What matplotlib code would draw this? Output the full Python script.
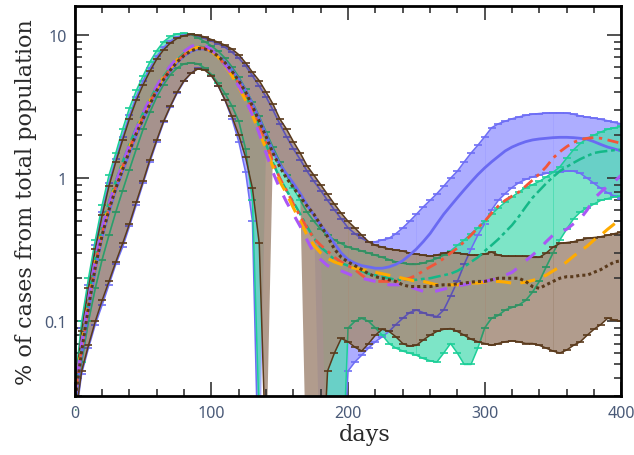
import matplotlib
matplotlib.use("Agg")
import matplotlib.pyplot as plt
import numpy as np
from matplotlib.path import Path
from matplotlib.ticker import FixedLocator, FixedFormatter, MultipleLocator

nan = np.nan

# simulation days, sampled every 5 days
days = np.arange(0, 401, 5)

# scenario means (% of population infected)
blue_mean = [
    0.026, 0.06, 0.12, 0.23, 0.39, 0.58, 0.83, 1.12, 1.5, 2.0,
    2.55, 3.25, 4.0, 4.85, 5.65, 6.45, 7.15, 7.7, 8.0, 8.0,
    7.7, 7.15, 6.5, 5.7, 4.9, 4.1, 3.3, 2.6, 2.0, 1.55,
    1.25, 1.07, 0.92, 0.78, 0.65, 0.55, 0.47, 0.41, 0.35, 0.3,
    0.27, 0.255, 0.245, 0.24, 0.235, 0.235, 0.24, 0.25, 0.265, 0.29,
    0.32, 0.36, 0.41, 0.48, 0.56, 0.64, 0.73, 0.83, 0.94, 1.06,
    1.18, 1.3, 1.42, 1.55, 1.65, 1.73, 1.8, 1.85, 1.88, 1.9,
    1.92, 1.93, 1.93, 1.92, 1.9, 1.87, 1.8, 1.72, 1.65, 1.6,
    1.55,
]
green_mean = [
    0.031, 0.072, 0.145, 0.28, 0.46, 0.68, 0.95, 1.3, 1.72, 2.25,
    2.85, 3.55, 4.35, 5.15, 5.95, 6.75, 7.45, 8.0, 8.3, 8.2,
    7.8, 7.1, 6.3, 5.45, 4.6, 3.8, 3.0, 2.3, 1.72, 1.28,
    1.0, 0.82, 0.68, 0.56, 0.46, 0.38, 0.33, 0.3, 0.27, 0.255,
    0.245, 0.235, 0.225, 0.215, 0.21, 0.205, 0.2, 0.195, 0.195, 0.195,
    0.195, 0.198, 0.2, 0.205, 0.21, 0.215, 0.225, 0.24, 0.26, 0.28,
    0.31, 0.34, 0.375, 0.42, 0.47, 0.54, 0.63, 0.73, 0.82, 0.92,
    1.02, 1.12, 1.2, 1.28, 1.36, 1.43, 1.5, 1.53, 1.55, 1.57,
    1.58,
]
brown_mean = [
    0.027, 0.062, 0.125, 0.24, 0.4, 0.6, 0.85, 1.15, 1.55, 2.05,
    2.6, 3.3, 4.1, 4.9, 5.7, 6.5, 7.2, 7.75, 8.05, 8.0,
    7.7, 7.1, 6.4, 5.6, 4.8, 4.0, 3.2, 2.5, 1.95, 1.5,
    1.2, 1.0, 0.86, 0.74, 0.64, 0.56, 0.47, 0.39, 0.32, 0.28,
    0.26, 0.245, 0.23, 0.215, 0.205, 0.2, 0.195, 0.19, 0.18, 0.175,
    0.175, 0.175, 0.175, 0.178, 0.18, 0.18, 0.183, 0.185, 0.188, 0.19,
    0.19, 0.195, 0.2, 0.2, 0.2, 0.2, 0.19, 0.175, 0.17, 0.18,
    0.19, 0.2, 0.205, 0.205, 0.21, 0.21, 0.22, 0.23, 0.245, 0.26,
    0.265,
]
red_mean = [
    0.029, 0.066, 0.13, 0.25, 0.42, 0.62, 0.88, 1.2, 1.6, 2.1,
    2.7, 3.4, 4.2, 5.0, 5.8, 6.6, 7.3, 7.9, 8.2, 8.1,
    7.7, 7.0, 6.2, 5.4, 4.6, 3.8, 3.0, 2.3, 1.75, 1.3,
    1.0, 0.82, 0.66, 0.54, 0.45, 0.38, 0.34, 0.31, 0.28, 0.26,
    0.245, 0.23, 0.21, 0.195, 0.19, 0.19, 0.19, 0.19, 0.195, 0.2,
    0.21, 0.225, 0.24, 0.255, 0.275, 0.3, 0.325, 0.36, 0.4, 0.45,
    0.5, 0.57, 0.64, 0.7, 0.75, 0.8, 0.88, 0.97, 1.07, 1.2,
    1.38, 1.53, 1.66, 1.78, 1.86, 1.9, 1.92, 1.9, 1.85, 1.8,
    1.75,
]
orange_mean = [
    0.03, 0.068, 0.135, 0.26, 0.43, 0.64, 0.9, 1.23, 1.65, 2.15,
    2.75, 3.45, 4.25, 5.05, 5.9, 6.7, 7.4, 7.95, 8.2, 8.1,
    7.7, 7.0, 6.1, 5.2, 4.3, 3.5, 2.75, 2.1, 1.6, 1.2,
    0.95, 0.78, 0.62, 0.5, 0.4, 0.34, 0.3, 0.275, 0.26, 0.25,
    0.24, 0.235, 0.23, 0.225, 0.22, 0.215, 0.21, 0.205, 0.2, 0.195,
    0.19, 0.19, 0.185, 0.18, 0.18, 0.18, 0.18, 0.182, 0.185, 0.185,
    0.188, 0.19, 0.19, 0.188, 0.185, 0.185, 0.188, 0.193, 0.2, 0.21,
    0.225, 0.24, 0.26, 0.285, 0.31, 0.335, 0.37, 0.4, 0.44, 0.48,
    0.52,
]
purple_mean = [
    0.03, 0.07, 0.14, 0.27, 0.45, 0.66, 0.93, 1.27, 1.7, 2.2,
    2.85, 3.6, 4.4, 5.3, 6.1, 6.9, 7.7, 8.3, 8.7, 8.5,
    7.9, 7.1, 6.2, 5.3, 4.4, 3.55, 2.75, 2.05, 1.5, 1.1,
    0.85, 0.68, 0.56, 0.46, 0.37, 0.3, 0.27, 0.245, 0.235, 0.225,
    0.215, 0.205, 0.2, 0.195, 0.19, 0.185, 0.18, 0.18, 0.18, 0.175,
    0.168, 0.162, 0.16, 0.163, 0.168, 0.172, 0.178, 0.18, 0.185, 0.188,
    0.19, 0.195, 0.2, 0.21, 0.22, 0.24, 0.265, 0.29, 0.32, 0.36,
    0.4, 0.42, 0.44, 0.48, 0.52, 0.6, 0.72, 0.8, 0.88, 0.95,
    1.05,
]

# error bar limits for the three scenarios with spread (nan = no lower bar)
blue_hi = [
    0.033, 0.09, 0.18, 0.34, 0.58, 0.93, 1.37, 1.95, 2.75, 3.7,
    4.8, 5.9, 7.1, 8.2, 9.1, 9.7, 10.0, 10.1, 9.9, 9.5,
    9.1, 8.7, 8.2, 7.6, 6.9, 6.1, 5.2, 4.4, 3.7, 3.0,
    2.4, 1.95, 1.6, 1.35, 1.12, 0.95, 0.82, 0.7, 0.6, 0.52,
    0.45, 0.41, 0.38, 0.36, 0.36, 0.37, 0.38, 0.41, 0.45, 0.5,
    0.56, 0.63, 0.7, 0.78, 0.88, 1.0, 1.12, 1.3, 1.5, 1.7,
    1.95, 2.25, 2.4, 2.5, 2.6, 2.68, 2.75, 2.8, 2.83, 2.85,
    2.86, 2.86, 2.85, 2.8, 2.72, 2.67, 2.63, 2.58, 2.52, 2.45,
    2.4,
]
blue_lo = [
    0.019, 0.043, 0.065, 0.095, 0.13, 0.18, 0.25, 0.33, 0.46, 0.65,
    0.92, 1.3, 1.8, 2.45, 3.15, 3.95, 4.75, 5.4, 5.85, 5.8,
    5.2, 4.4, 3.5, 2.6, 1.8, 1.1, 0.5, 0.005, nan, nan,
    nan, nan, nan, nan, nan, nan, 0.005, 0.005, 0.005, 0.005,
    0.045, 0.052, 0.058, 0.065, 0.072, 0.078, 0.085, 0.095, 0.105, 0.115,
    0.12, 0.115, 0.11, 0.108, 0.12, 0.15, 0.19, 0.25, 0.32, 0.4,
    0.48, 0.6, 0.7, 0.78, 0.86, 0.93, 0.98, 1.02, 1.05, 1.08,
    1.1, 1.11, 1.12, 1.12, 1.08, 1.0, 0.92, 0.85, 0.79, 0.75,
    0.72,
]
green_hi = [
    0.035, 0.1, 0.2, 0.37, 0.65, 1.05, 1.5, 2.2, 3.1, 4.1,
    5.2, 6.5, 7.8, 9.0, 9.8, 10.2, 10.3, 10.1, 9.6, 9.0,
    8.4, 7.7, 6.9, 6.0, 5.1, 4.2, 3.4, 2.7, 2.1, 1.65,
    1.3, 1.05, 0.85, 0.7, 0.58, 0.5, 0.44, 0.4, 0.37, 0.35,
    0.33, 0.32, 0.31, 0.3, 0.29, 0.28, 0.27, 0.26, 0.255, 0.25,
    0.25, 0.255, 0.265, 0.275, 0.29, 0.31, 0.34, 0.37, 0.41, 0.45,
    0.5, 0.56, 0.62, 0.68, 0.74, 0.8, 0.86, 0.9, 0.95, 1.02,
    1.1, 1.2, 1.38, 1.58, 1.75, 1.9, 2.0, 2.1, 2.2, 2.25,
    2.3,
]
green_lo = [
    0.024, 0.052, 0.1, 0.17, 0.27, 0.4, 0.58, 0.82, 1.15, 1.6,
    2.2, 2.9, 3.7, 4.5, 5.3, 5.9, 6.3, 6.4, 6.3, 5.9,
    5.3, 4.6, 3.9, 3.2, 2.5, 1.6, 0.7, 0.02, nan, nan,
    nan, nan, nan, nan, nan, nan, nan, 0.005, 0.005, 0.005,
    0.09, 0.1, 0.105, 0.1, 0.09, 0.08, 0.07, 0.065, 0.062, 0.06,
    0.058, 0.055, 0.053, 0.052, 0.06, 0.07, 0.06, 0.05, 0.05, 0.065,
    0.09, 0.105, 0.11, 0.12, 0.125, 0.13, 0.14, 0.16, 0.19, 0.24,
    0.3, 0.37, 0.44, 0.52, 0.58, 0.62, 0.66, 0.7, 0.72, 0.74,
    0.75,
]
brown_hi = [
    0.032, 0.085, 0.17, 0.32, 0.55, 0.88, 1.3, 1.85, 2.6, 3.5,
    4.5, 5.6, 6.8, 7.9, 8.8, 9.5, 9.9, 10.1, 10.0, 9.7,
    9.3, 8.9, 8.5, 8.0, 7.3, 6.4, 5.5, 4.8, 4.0, 3.3,
    2.6, 2.2, 1.8, 1.5, 1.22, 1.05, 0.9, 0.77, 0.66, 0.57,
    0.5, 0.45, 0.4, 0.36, 0.34, 0.33, 0.32, 0.315, 0.31, 0.3,
    0.295, 0.29, 0.285, 0.29, 0.3, 0.305, 0.3, 0.295, 0.29, 0.29,
    0.295, 0.305, 0.29, 0.285, 0.285, 0.285, 0.285, 0.28, 0.28, 0.3,
    0.33, 0.35, 0.355, 0.36, 0.37, 0.38, 0.385, 0.39, 0.4, 0.41,
    0.42,
]
brown_lo = [
    0.02, 0.045, 0.068, 0.1, 0.14, 0.19, 0.26, 0.35, 0.48, 0.68,
    0.95, 1.35, 1.85, 2.5, 3.2, 4.0, 4.8, 5.4, 5.8, 5.7,
    5.2, 4.4, 3.5, 2.7, 2.0, 1.4, 0.85, 0.35, 0.01, nan,
    nan, nan, nan, nan, 0.005, 0.005, 0.005, 0.045, 0.06, 0.076,
    0.072, 0.066, 0.062, 0.07, 0.08, 0.088, 0.085, 0.078, 0.07, 0.067,
    0.068, 0.074, 0.08, 0.085, 0.088, 0.089, 0.085, 0.08, 0.075, 0.072,
    0.07, 0.068, 0.07, 0.072, 0.073, 0.072, 0.07, 0.07, 0.068, 0.065,
    0.062, 0.06, 0.063, 0.068, 0.072, 0.08, 0.088, 0.095, 0.105, 0.102,
    0.1,
]


def spread_fill(ax, mean, lo, hi, color, alpha):
    """Shaded error bars from lo (or the mean where lo is missing) to hi."""
    mean, lo, hi = np.array(mean), np.array(lo), np.array(hi)
    bottom = np.where(np.isnan(lo), mean, lo)
    poly = ax.fill_between(days, bottom, hi, color=color, alpha=alpha, lw=0)
    # darker bars every 50 days in the second wave
    idx = np.isin(days, [200, 250, 300, 350])
    ax.vlines(days[idx], bottom[idx], hi[idx], color=color, lw=0.7,
              alpha=min(1.0, alpha + 0.3))
    return Path.make_compound_path(*poly.get_paths())


def spread_caps(ax, lo, hi, color, clip=None, alpha=1.0):
    """Caps at both ends of the error bars."""
    arts = []
    for edge in (hi, lo):
        arts += ax.plot(days, edge, color=color, lw=1.1, alpha=alpha)
        arts += ax.plot(days, edge, ls="none", marker="_", ms=6, mew=1.2,
                        color=color, alpha=alpha)
    if clip is not None:
        for a in arts:
            a.set_clip_path(clip, ax.transData)


fig = plt.figure(figsize=(6.34, 4.56), dpi=100)
ax = fig.add_axes([0.118, 0.129, 0.862, 0.856])
ax.set_yscale("log")
ax.set_xlim(0, 400)
ax.set_ylim(0.03, 16)

spread_fill(ax, blue_mean, blue_lo, blue_hi, "#a4a4ff", 0.9)
spread_caps(ax, blue_lo, blue_hi, "#6e6ef5")
spread_fill(ax, green_mean, green_lo, green_hi, "#52ddb5", 0.75)
spread_caps(ax, green_lo, green_hi, "#1dcf98")
brown_area = spread_fill(ax, brown_mean, brown_lo, brown_hi, (0.65, 0.56, 0.49), 0.88)
# caps of the other runs showing through the brown bars
spread_caps(ax, blue_lo, blue_hi, "#5c4f9c", clip=brown_area, alpha=0.8)
spread_caps(ax, green_lo, green_hi, "#3a8a5e", clip=brown_area, alpha=0.8)
spread_caps(ax, brown_lo, brown_hi, "#5a3a1c")

ax.plot(days, blue_mean, color="#6a6af2", lw=2.0)
ax.plot(days, green_mean, color="#14b888", lw=1.8, ls=(0, (5, 1.5, 1.5, 1.5)))
ax.plot(days, red_mean, color="#f2553a", lw=2.0, ls=(0, (4, 2, 1.2, 2)))
ax.plot(days, orange_mean, color="#ffab00", lw=2.2, ls=(0, (5, 3)))
ax.plot(days, purple_mean, color="#a957f5", lw=2.2, ls=(0, (4, 4)))
ax.plot(days, brown_mean, color="#5a3a1c", lw=2.2, ls=(0, (1, 1)))

ax.xaxis.set_major_locator(MultipleLocator(100))
ax.xaxis.set_minor_locator(MultipleLocator(20))
ax.yaxis.set_major_locator(FixedLocator([0.1, 1, 10]))
ax.yaxis.set_major_formatter(FixedFormatter(["0.1", "1", "10"]))
minor_y = [m * 10.0 ** e for e in (-2, -1, 0, 1) for m in range(2, 10)]
ax.yaxis.set_minor_locator(FixedLocator(minor_y))
ax.yaxis.set_minor_formatter(FixedFormatter([""] * len(minor_y)))

ax.tick_params(which="both", direction="in", top=True, right=True,
               width=1.2, color="#333333", labelcolor="#4a5a78",
               labelsize=11.5, pad=6)
ax.tick_params(which="major", length=10)
ax.tick_params(which="minor", length=5)
for lab in ax.get_xticklabels() + ax.get_yticklabels():
    lab.set_family("Noto Sans")
for sp in ax.spines.values():
    sp.set_linewidth(2.0)

ax.set_xlabel("days", family="DejaVu Serif", fontsize=16, color="#2a2a2a")
ax.xaxis.set_label_coords(0.53, -0.07)
ax.set_ylabel("% of cases from total population", family="DejaVu Serif",
              fontsize=16, color="#2a2a2a", labelpad=5)

fig.savefig("out.png", dpi=100)
